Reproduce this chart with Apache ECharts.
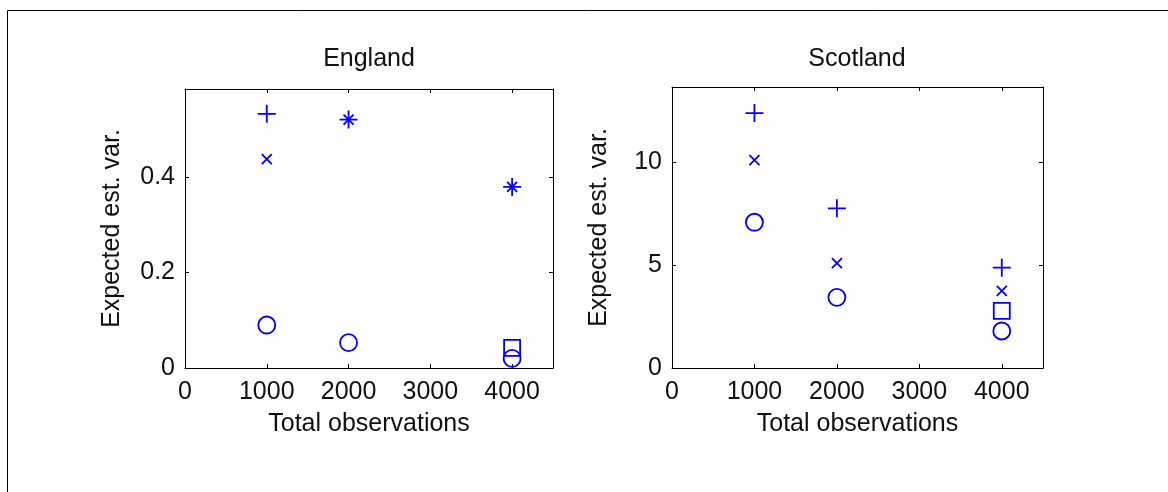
<!DOCTYPE html>
<html>
<head>
<meta charset="utf-8">
<title>Expected estimation variance</title>
<script src="https://cdn.jsdelivr.net/npm/echarts@6/dist/echarts.min.js"></script>
<style>
  html, body { margin: 0; padding: 0; background: #ffffff; }
  #chart { width: 1168px; height: 492px; }
</style>
</head>
<body>
<div id="chart"></div>
<script>
// Sample sizes on the horizontal axis
const observations = [1000, 2000, 4000];

// England: expected estimation variance per design
const englandPlus   = [0.532, 0.520, 0.379];
const englandCross  = [0.437, 0.520, 0.379];
const englandCircle = [0.090, 0.053, 0.020];
const englandSquare = [null, null, 0.042];

// Scotland: expected estimation variance per design
const scotlandPlus   = [12.40, 7.77, 4.88];
const scotlandCross  = [10.11, 5.10, 3.75];
const scotlandCircle = [7.09, 3.44, 1.80];
const scotlandSquare = [null, null, 2.78];

const panelTitles = ['England', 'Scotland'];
const xName = 'Total observations';
const yName = 'Expected est. var.';

const BLUE = '#0000ff';
const FONT = '"Liberation Sans", Arial, sans-serif';
const FS = 25;
const TEXT = '#111';

const plusPath = 'path://M0,5L10,5M5,0L5,10';
const crossPath = 'path://M0,0L10,10M10,0L0,10';

function pairs(xs, ys) {
  const out = [];
  xs.forEach((x, i) => { if (ys[i] !== null) out.push([x, ys[i]]); });
  return out;
}

// plain numbers, no thousands separators
const plain = v => String(+v.toFixed(6));

const grids = [
  { left: 185, top: 89, width: 368, height: 279 },
  { left: 672, top: 87, width: 371, height: 281 }
];
const yMax = [0.584, 13.67];
const yInterval = [0.2, 5];

const xAxes = [];
const yAxes = [];
grids.forEach((g, gi) => {
  const line = { show: true, onZero: false, lineStyle: { color: '#000', width: 1 } };
  const tick = { show: true, inside: true, length: 4, lineStyle: { color: '#000', width: 1 } };
  xAxes.push({
    type: 'value', gridIndex: gi, position: 'bottom', min: 0, max: 4500, interval: 1000,
    axisLine: line, axisTick: tick, splitLine: { show: false },
    axisLabel: { showMaxLabel: false, margin: 12, color: TEXT, fontFamily: FONT, fontSize: FS, formatter: plain },
    name: xName, nameLocation: 'middle', nameGap: 44,
    nameTextStyle: { color: TEXT, fontFamily: FONT, fontSize: FS }
  });
  xAxes.push({
    type: 'value', gridIndex: gi, position: 'top', min: 0, max: 4500, interval: 1000,
    axisLine: line, axisTick: tick, splitLine: { show: false }, axisLabel: { show: false }
  });
  yAxes.push({
    type: 'value', gridIndex: gi, position: 'left', min: 0, max: yMax[gi], interval: yInterval[gi],
    axisLine: line, axisTick: tick, splitLine: { show: false },
    axisLabel: { showMaxLabel: false, margin: 10, color: TEXT, fontFamily: FONT, fontSize: FS, formatter: plain },
    name: yName, nameLocation: 'middle', nameGap: 60, nameRotate: 90,
    nameTextStyle: { color: TEXT, fontFamily: FONT, fontSize: FS }
  });
  yAxes.push({
    type: 'value', gridIndex: gi, position: 'right', min: 0, max: yMax[gi], interval: yInterval[gi],
    axisLine: line, axisTick: tick, splitLine: { show: false }, axisLabel: { show: false }
  });
});

function markerSeries(gi, data, symbol, size) {
  return {
    type: 'scatter', xAxisIndex: gi * 2, yAxisIndex: gi * 2,
    data: pairs(observations, data), symbol: symbol, symbolSize: size,
    itemStyle: { color: 'transparent', borderColor: BLUE, borderWidth: 1.8, opacity: 1 },
    emphasis: { disabled: true }, silent: true, z: 3
  };
}

const series = [
  markerSeries(0, englandPlus, plusPath, 18),
  markerSeries(0, englandCross, crossPath, 10),
  markerSeries(0, englandCircle, 'circle', 17),
  markerSeries(0, englandSquare, 'rect', 16),
  markerSeries(1, scotlandPlus, plusPath, 18),
  markerSeries(1, scotlandCross, crossPath, 10),
  markerSeries(1, scotlandCircle, 'circle', 17),
  markerSeries(1, scotlandSquare, 'rect', 16)
];

const chart = echarts.init(document.getElementById('chart'), null, { renderer: 'canvas' });
chart.setOption({
  animation: false,
  backgroundColor: '#ffffff',
  grid: grids.map(g => Object.assign({ containLabel: false }, g)),
  xAxis: xAxes,
  yAxis: yAxes,
  series: series,
  graphic: [
    // faint figure area
    { type: 'rect', z: -10, silent: true, shape: { x: 40, y: 25, width: 1107, height: 453 },
      style: { fill: '#fefefe' } },
    // outer frame lines (top and left)
    { type: 'line', silent: true, shape: { x1: 7.5, y1: 10.5, x2: 7.5, y2: 492 },
      style: { stroke: '#000', lineWidth: 1 } },
    { type: 'line', silent: true, shape: { x1: 7.5, y1: 10.5, x2: 1168, y2: 10.5 },
      style: { stroke: '#000', lineWidth: 1 } },
    // panel titles
    { type: 'text', silent: true, x: 369, y: 59,
      style: { text: panelTitles[0], fill: TEXT, font: FS + 'px ' + FONT, align: 'center', verticalAlign: 'middle' } },
    { type: 'text', silent: true, x: 857, y: 59,
      style: { text: panelTitles[1], fill: TEXT, font: FS + 'px ' + FONT, align: 'center', verticalAlign: 'middle' } }
  ]
});
</script>
</body>
</html>
